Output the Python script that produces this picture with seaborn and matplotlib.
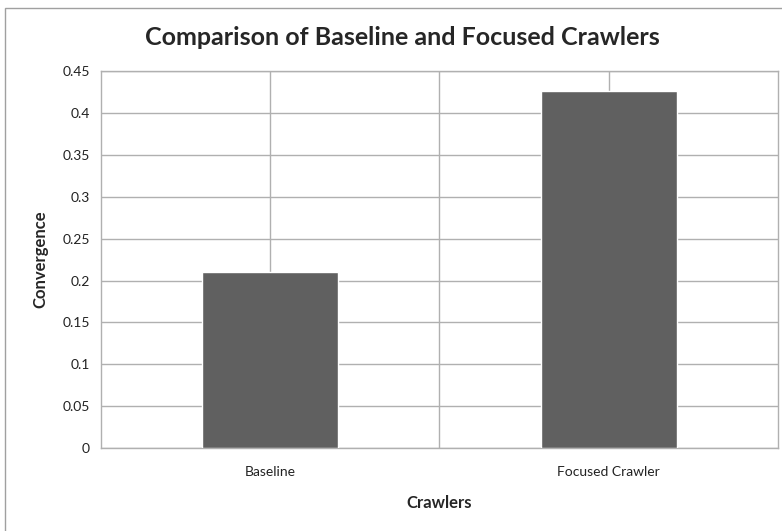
import matplotlib
matplotlib.use("Agg")
import matplotlib.pyplot as plt
import seaborn as sns
import pandas as pd
from matplotlib.patches import Rectangle

# Datos
crawlers = ["Baseline", "Focused Crawler"]
convergence = [0.21, 0.426]
yticks = [0, 0.05, 0.1, 0.15, 0.2, 0.25, 0.3, 0.35, 0.4, 0.45]
ytick_labels = ["0", "0.05", "0.1", "0.15", "0.2", "0.25", "0.3", "0.35", "0.4", "0.45"]

df = pd.DataFrame({"Crawlers": crawlers, "Convergence": convergence})

sns.set_style("white")
plt.rcParams["font.family"] = ["Lato", "DejaVu Sans"]

fig = plt.figure(figsize=(7.82, 5.31), dpi=100)
ax = fig.add_axes([0.129, 0.156, 0.866, 0.71])

sns.barplot(data=df, x="Crawlers", y="Convergence", color="#606060",
            saturation=1, width=0.4, ax=ax, zorder=3)

ax.set_xlim(-0.5, 1.5)
ax.set_ylim(0, 0.45)
ax.set_yticks(yticks)
ax.set_yticklabels(ytick_labels, fontsize=10)
ax.set_xticks([0, 1])
ax.set_xticklabels(crawlers, fontsize=10)
ax.set_xticks([0.5], minor=True)
ax.tick_params(axis="both", which="both", length=0, labelcolor="#222222")
ax.tick_params(axis="x", pad=13)
ax.tick_params(axis="y", pad=8)

gridc = "#b0b0b0"
ax.grid(True, axis="y", color=gridc, linewidth=1, zorder=0)
ax.grid(True, axis="x", which="both", color=gridc, linewidth=1, zorder=0)
ax.set_axisbelow(True)
for s in ax.spines.values():
    s.set_color(gridc)
    s.set_linewidth(1)

ax.set_xlabel("Crawlers", fontsize=12, fontweight="bold", labelpad=12)
ax.set_ylabel("Convergence", fontsize=12, fontweight="bold", labelpad=10)

fig.text(0.515, 0.93, "Comparison of Baseline and Focused Crawlers",
         ha="center", va="center", fontsize=18, fontweight="bold")

# borde de la figura
fig.patches.append(Rectangle((0.007, -0.01), 1.0, 0.995, transform=fig.transFigure,
                             fill=False, edgecolor="#a0a0a0", linewidth=1))

fig.savefig("out.png", dpi=100)
